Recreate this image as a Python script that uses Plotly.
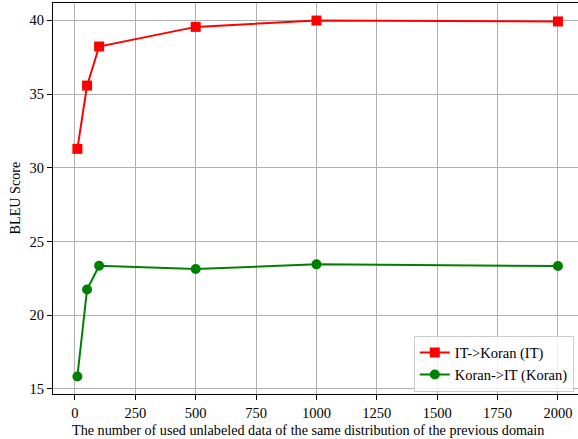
import plotly.graph_objects as go

x_vals = [10, 50, 100, 500, 1000, 2000]
it_koran = [31.28, 35.57, 38.22, 39.55, 39.98, 39.92]
koran_it = [15.85, 21.75, 23.35, 23.14, 23.45, 23.34]
series_names = ["IT->Koran (IT)", "Koran->IT (Koran)"]
x_ticks = [0, 250, 500, 750, 1000, 1250, 1500, 1750, 2000]
y_ticks = [15, 20, 25, 30, 35, 40]
x_title = "The number of used unlabeled data of the same distribution of the previous domain"
y_title = "BLEU Score"

FONT = "Liberation Serif, Times New Roman, serif"

fig = go.Figure()
fig.add_trace(go.Scatter(
    x=x_vals, y=it_koran, name=series_names[0], mode="lines+markers",
    line=dict(color="#ff0000", width=2),
    marker=dict(symbol="square", size=10, color="#ff0000"),
))
fig.add_trace(go.Scatter(
    x=x_vals, y=koran_it, name=series_names[1], mode="lines+markers",
    line=dict(color="#008000", width=2),
    marker=dict(symbol="circle", size=10, color="#008000"),
))

fig.update_layout(
    width=578, height=439,
    margin=dict(l=53, r=0, t=3, b=45, autoexpand=False),
    plot_bgcolor="white", paper_bgcolor="white",
    font=dict(family=FONT, size=14, color="black"),
    legend=dict(
        x=0.992, y=0.006, xanchor="right", yanchor="bottom",
        bgcolor="rgba(255,255,255,0.8)", bordercolor="#cccccc", borderwidth=1,
        font=dict(family=FONT, size=14.5), tracegroupgap=0,
    ),
    xaxis=dict(
        range=[-91, 2083], tickvals=x_ticks, showgrid=True, gridcolor="#b0b0b0",
        gridwidth=1, zeroline=False, showline=True, linecolor="black", linewidth=1.2,
        mirror=True, ticks="outside", ticklen=5, tickcolor="black", automargin=False,
        tickfont=dict(family=FONT, size=14.5),
    ),
    yaxis=dict(
        range=[14.66, 41.17], tickvals=y_ticks, showgrid=True, gridcolor="#b0b0b0",
        gridwidth=1, zeroline=False, showline=True, linecolor="black", linewidth=1.2,
        ticks="outside", ticklen=5, tickcolor="black", automargin=False,
        tickfont=dict(family=FONT, size=14.5),
    ),
    annotations=[
        dict(text=x_title, xref="paper", yref="paper", x=0.5, y=0, xanchor="center",
             yanchor="top", yshift=-26, xshift=-8, showarrow=False, font=dict(family=FONT, size=14.2)),
        dict(text=y_title, xref="paper", yref="paper", x=0, y=0.5, xanchor="right",
             yanchor="middle", xshift=-29, textangle=-90, showarrow=False, font=dict(family=FONT, size=14.2)),
    ],
)

fig.write_html(
    "out.html",
    config={"displayModeBar": False},
    post_script="document.body.style.margin='0';document.body.style.padding='0';document.body.style.overflow='hidden';",
)
